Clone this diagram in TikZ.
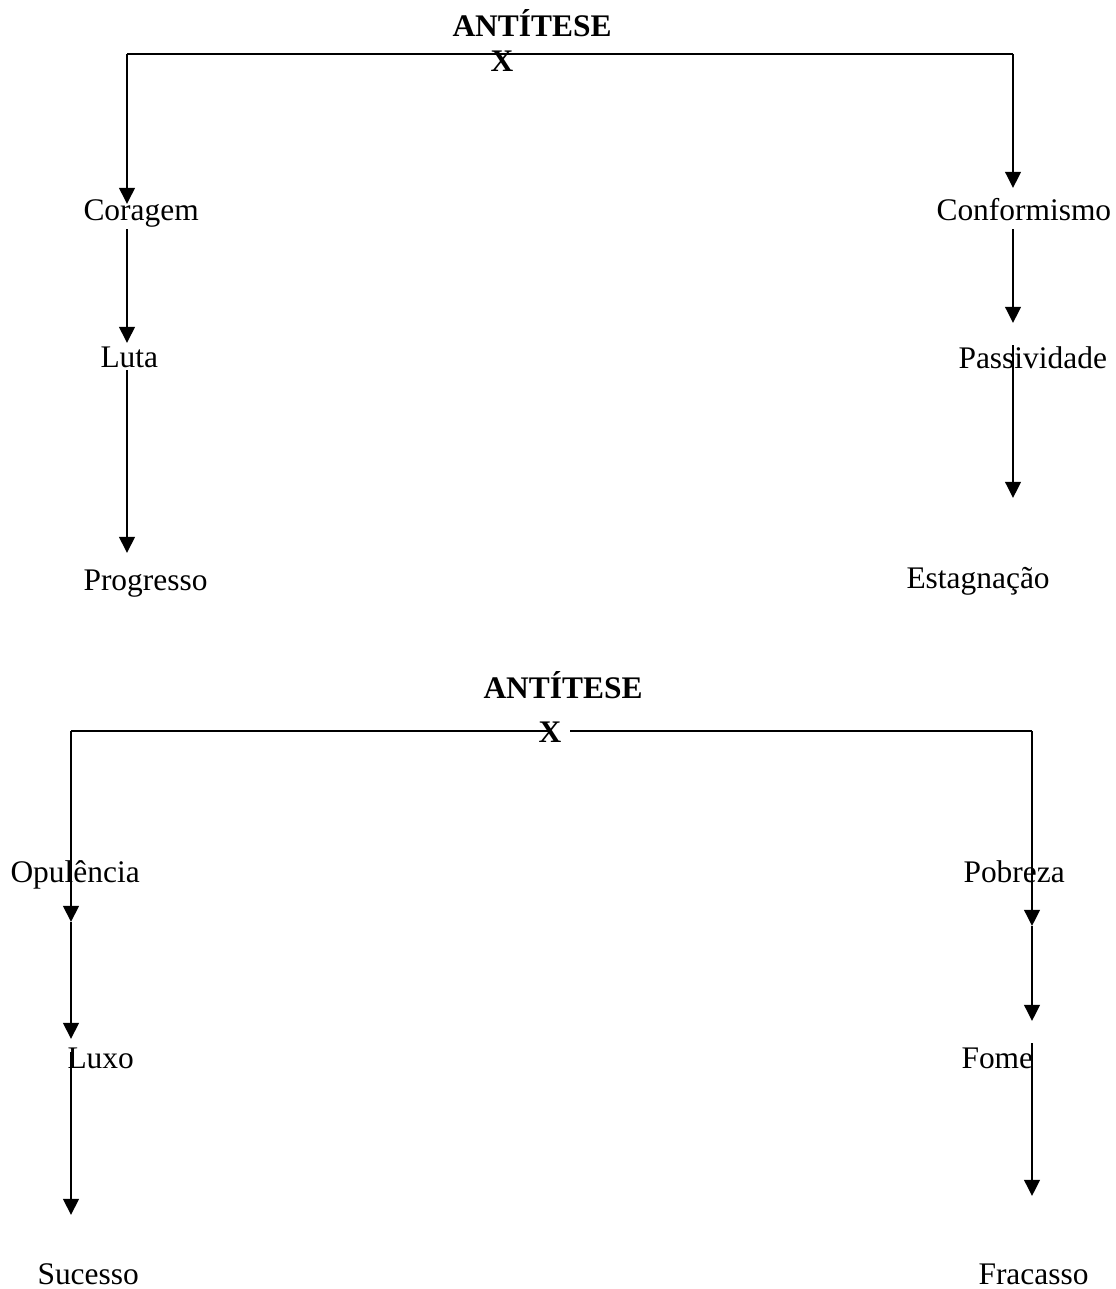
\documentclass[tikz,border=0pt]{standalone}
\usepackage{fontspec}
\setmainfont{Liberation Serif}
\usetikzlibrary{arrows.meta}

\begin{document}
\begin{tikzpicture}[x=0.3817pt, y=-0.3817pt, font=\fontsize{12}{14}\selectfont, >={Triangle[length=6.2pt, width=6pt]},
word/.style={inner sep=0pt, anchor=base west},
head/.style={inner sep=0pt, anchor=base, font=\fontsize{12}{14}\selectfont\bfseries},
link/.style={line width=0.8pt}]
\useasboundingbox (0,0) rectangle (1116,1289);
% first antithesis
\node[head] (ant1) at (532,37) {ANTÍTESE};
\node[head] (x1) at (502,72) {X};
\node[word] (coragem) at (83,221) {Coragem};
\node[word] (luta) at (100,367) {Luta};
\node[word] (progresso) at (83,590) {Progresso};
\node[word] (conformismo) at (936,221) {Conformismo};
\node[word] (passividade) at (958,368) {Passividade};
\node[word] (estagnacao) at (906,588) {Estagnação};
\coordinate (tl1) at (127,54); \coordinate (tr1) at (1013,54);
\coordinate (l1a) at (127,204); \coordinate (l1b) at (127,229); \coordinate (l1c) at (127,343);
\coordinate (l1d) at (127,370); \coordinate (l1e) at (127,553);
\coordinate (r1a) at (1013,188); \coordinate (r1b) at (1013,229); \coordinate (r1c) at (1013,323);
\coordinate (r1d) at (1013,345); \coordinate (r1e) at (1013,498);
\draw[link] (tl1) -- (tr1);
\draw[link, ->] (tl1) -- (l1a); \draw[link, ->] (l1b) -- (l1c); \draw[link, ->] (l1d) -- (l1e);
\draw[link, ->] (tr1) -- (r1a); \draw[link, ->] (r1b) -- (r1c); \draw[link, ->] (r1d) -- (r1e);
% second antithesis
\node[head] (ant2) at (563,698) {ANTÍTESE};
\node[head] (x2) at (550,742) {X};
\node[word] (opulencia) at (10,882) {Opulência};
\node[word] (luxo) at (67,1068) {Luxo};
\node[word] (sucesso) at (37,1284) {Sucesso};
\node[word] (pobreza) at (963,882) {Pobreza};
\node[word] (fome) at (961,1068) {Fome};
\node[word] (fracasso) at (978,1284) {Fracasso};
\coordinate (tl2) at (71,731); \coordinate (tr2) at (1032,731);
\coordinate (gap2) at (570,731);
\coordinate (l2a) at (71,922); \coordinate (l2b) at (71,1039);
\coordinate (l2c) at (71,1052); \coordinate (l2d) at (71,1215);
\coordinate (r2a) at (1032,926); \coordinate (r2b) at (1032,1021);
\coordinate (r2c) at (1032,1043); \coordinate (r2d) at (1032,1196);
\draw[link] (tl2) -- (x2.center |- tl2); \draw[link] (gap2) -- (tr2);
\draw[link, ->] (tl2) -- (l2a); \draw[link, ->] (l2a) -- (l2b); \draw[link, ->] (l2c) -- (l2d);
\draw[link, ->] (tr2) -- (r2a); \draw[link, ->] (r2a) -- (r2b); \draw[link, ->] (r2c) -- (r2d);
\end{tikzpicture}
\end{document}
